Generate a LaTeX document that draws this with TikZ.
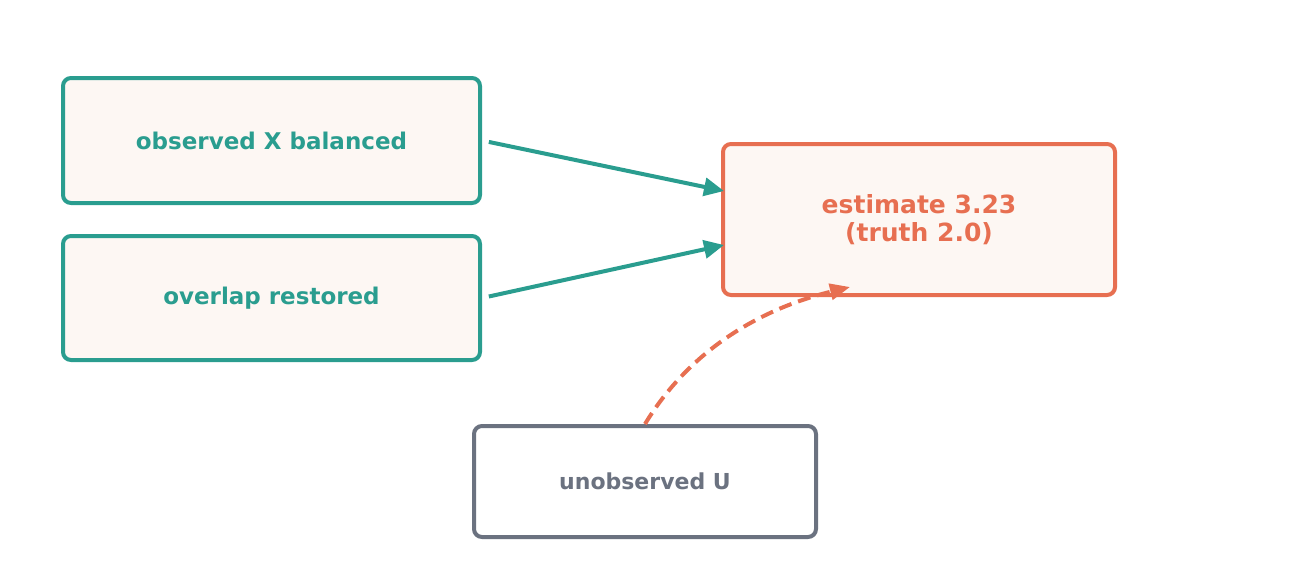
\documentclass[tikz,border=0pt]{standalone}
\usepackage{fontspec}
\setmainfont{DejaVu Sans}
\usetikzlibrary{arrows.meta,calc}
\definecolor{teal1}{HTML}{2A9D8F}
\definecolor{orange1}{HTML}{E76F51}
\definecolor{gray1}{HTML}{6B7280}
\definecolor{cream}{HTML}{FDF7F3}
\tikzset{
  box/.style={draw, rounded corners=8pt, line width=4pt, inner sep=0pt, font=\fontsize{23}{27}\selectfont\bfseries},
  obsbox/.style={box, draw=teal1, fill=cream, text=teal1},
  estbox/.style={box, draw=orange1, fill=cream, text=orange1, align=center, font=\fontsize{25}{28}\selectfont\bfseries},
  hidbox/.style={box, draw=gray1, fill=white, text=gray1, font=\fontsize{22}{27}\selectfont\bfseries},
  tealarrow/.style={draw=teal1, line width=4pt, -{Triangle[length=20pt,width=18pt]}, shorten <=7pt},
  dasharrow/.style={draw=orange1, line width=4pt, dash pattern=on 13pt off 7pt, -{Triangle[length=20pt,width=16pt]}},
}
\begin{document}
\begin{tikzpicture}[x=1pt,y=-1pt]
\useasboundingbox (0,0) rectangle (1290,570);
\node[obsbox, minimum width=417pt, minimum height=125pt] (A) at (271.5,140.5) {observed X balanced};
\node[obsbox, minimum width=417pt, minimum height=124pt] (B) at (271.5,298) {overlap restored};
\node[estbox, minimum width=392pt, minimum height=151pt] (C) at (919,219.5) {estimate 3.23\\(truth 2.0)};
\node[hidbox, minimum width=342pt, minimum height=111pt] (D) at (645,481.5) {unobserved U};
\coordinate (C1) at ($(C.west)+(3,-28.5)$);
\coordinate (C2) at ($(C.west)+(3,25.5)$);
\coordinate (C3) at ($(C.south)+(-69,-10)$);
\draw[tealarrow] (A.east) -- (C1);
\draw[tealarrow] (B.east) -- (C2);
\draw[dasharrow] (D.north) .. controls ($(D.north)+(43,-71)$) and ($(C.south)+(-163,13)$) .. (C3);
\end{tikzpicture}
\end{document}
